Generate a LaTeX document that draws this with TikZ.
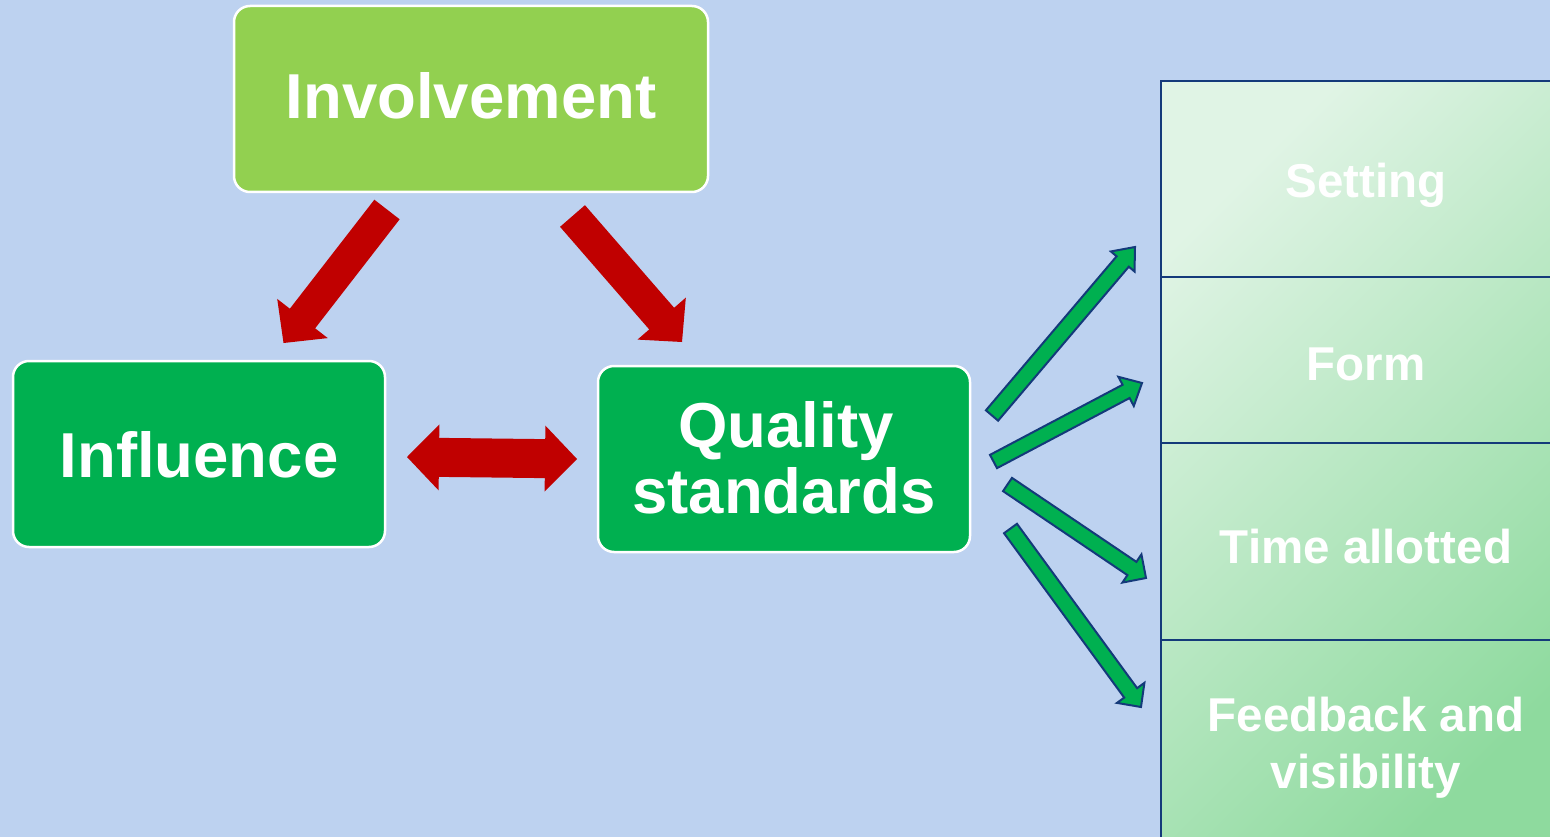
\documentclass[tikz,border=0pt]{standalone}
\usepackage{fontspec}
\setmainfont{Liberation Sans}
\usetikzlibrary{calc}
\definecolor{bg}{RGB}{189,210,240}
\definecolor{lgreen}{RGB}{146,208,80}
\definecolor{dgreen}{RGB}{0,176,80}
\definecolor{dred}{RGB}{192,0,0}
\definecolor{navy}{RGB}{20,58,122}
\definecolor{pTL}{RGB}{224,244,229}
\definecolor{pBR}{RGB}{142,218,158}
\newcommand\blockarrow[6]{%
  \coordinate (ba-n) at ($(#2)!#5!(#1)$);
  \path[#6] ($(#1)!#3!90:(#2)$) -- ($(ba-n)!#3!90:(#2)$) -- ($(ba-n)!#4!90:(#2)$) -- (#2)
    -- ($(ba-n)!#4!-90:(#2)$) -- ($(ba-n)!#3!-90:(#2)$) -- ($(#1)!#3!-90:(#2)$) -- cycle;}
\tikzset{
  mainbox/.style={draw=white, line width=2.5pt, rounded corners=16pt, inner sep=0pt, outer sep=0pt},
  maintext/.style={text=white, font=\fontsize{63.5}{66}\selectfont\bfseries, inner sep=0pt, anchor=base},
  cell/.style={draw=navy, line width=2.5pt, minimum width=414pt, inner sep=0pt, outer sep=0pt},
  ptext/.style={text=white, font=\fontsize{47.5}{57}\selectfont\bfseries, inner sep=0pt, anchor=base},
  redarrow/.style={fill=dred},
  greenarrow/.style={fill=dgreen, draw=navy, line width=2pt, line join=miter},
}
\begin{document}
\begin{tikzpicture}[x=1pt, y=-1pt]
\useasboundingbox (0,0) rectangle (1550,837);
\clip (0,0) rectangle (1550,837);
\fill[bg] (0,0) rectangle (1550,837);

% main boxes
\node[mainbox, fill=lgreen, minimum width=474pt, minimum height=186pt] (inv) at (471,99) {};
\node[mainbox, fill=dgreen, minimum width=372pt, minimum height=186pt] (inf) at (199,454) {};
\node[mainbox, fill=dgreen, minimum width=372pt, minimum height=186pt] (qs) at (784,459) {};
\node[maintext] (invt) at (471,119) {Involvement};
\node[maintext] (inft) at (199,477) {Influence};
\node[maintext] (qst1) at (786,447) {Quality};
\node[maintext] (qst2) at (784,513) {standards};

% right panel
\shade[top color=pTL, bottom color=pBR, shading angle=45] (1161,81) rectangle (1575,850);
\node[cell, minimum height=196pt] (c1) at (1368,179) {};
\node[cell, minimum height=166pt] (c2) at (1368,360) {};
\node[cell, minimum height=197pt] (c3) at (1368,541.5) {};
\node[cell, minimum height=210pt] (c4) at (1368,745) {};
\node[ptext] (t1) at (1366,198) {Setting};
\node[ptext] (t2) at (1366,380) {Form};
\node[ptext] (t3) at (1366,563) {Time allotted};
\node[ptext] (t4a) at (1366,731) {Feedback and};
\node[ptext] (t4b) at (1366,788) {visibility};

% red arrows
\coordinate (r1a) at (387,209.5); \coordinate (r1b) at (283.5,343);
\coordinate (r2a) at (572.5,216); \coordinate (r2b) at (682,342);
\blockarrow{r1a}{r1b}{16pt}{32pt}{31pt}{redarrow}
\blockarrow{r2a}{r2b}{16.5pt}{32pt}{31pt}{redarrow}

% double arrow
\coordinate (dl) at (407,457); \coordinate (dr) at (577,459);
\coordinate (nl) at ($(dl)!32pt!(dr)$);
\coordinate (nr) at ($(dr)!32pt!(dl)$);
\path[redarrow] (dl) -- ($(nl)!33pt!90:(dr)$) -- ($(nl)!19.5pt!90:(dr)$) -- ($(nr)!19.5pt!-90:(dl)$)
  -- ($(nr)!33pt!-90:(dl)$) -- (dr) -- ($(nr)!33pt!90:(dl)$) -- ($(nr)!19.5pt!90:(dl)$)
  -- ($(nl)!19.5pt!-90:(dr)$) -- ($(nl)!33pt!-90:(dr)$) -- cycle;

% green arrows
\coordinate (g1a) at (992,415.5); \coordinate (g1b) at (1135,247);
\coordinate (g2a) at (993.5,461.5); \coordinate (g2b) at (1142,383);
\coordinate (g3a) at (1007.5,484.5); \coordinate (g3b) at (1146,578);
\coordinate (g4a) at (1010.5,528.5); \coordinate (g4b) at (1141,707);
\blockarrow{g1a}{g1b}{8pt}{15.5pt}{19pt}{greenarrow}
\blockarrow{g2a}{g2b}{7.5pt}{16.5pt}{18pt}{greenarrow}
\blockarrow{g3a}{g3b}{8pt}{17pt}{17pt}{greenarrow}
\blockarrow{g4a}{g4b}{8pt}{17pt}{17.5pt}{greenarrow}
\end{tikzpicture}
\end{document}
